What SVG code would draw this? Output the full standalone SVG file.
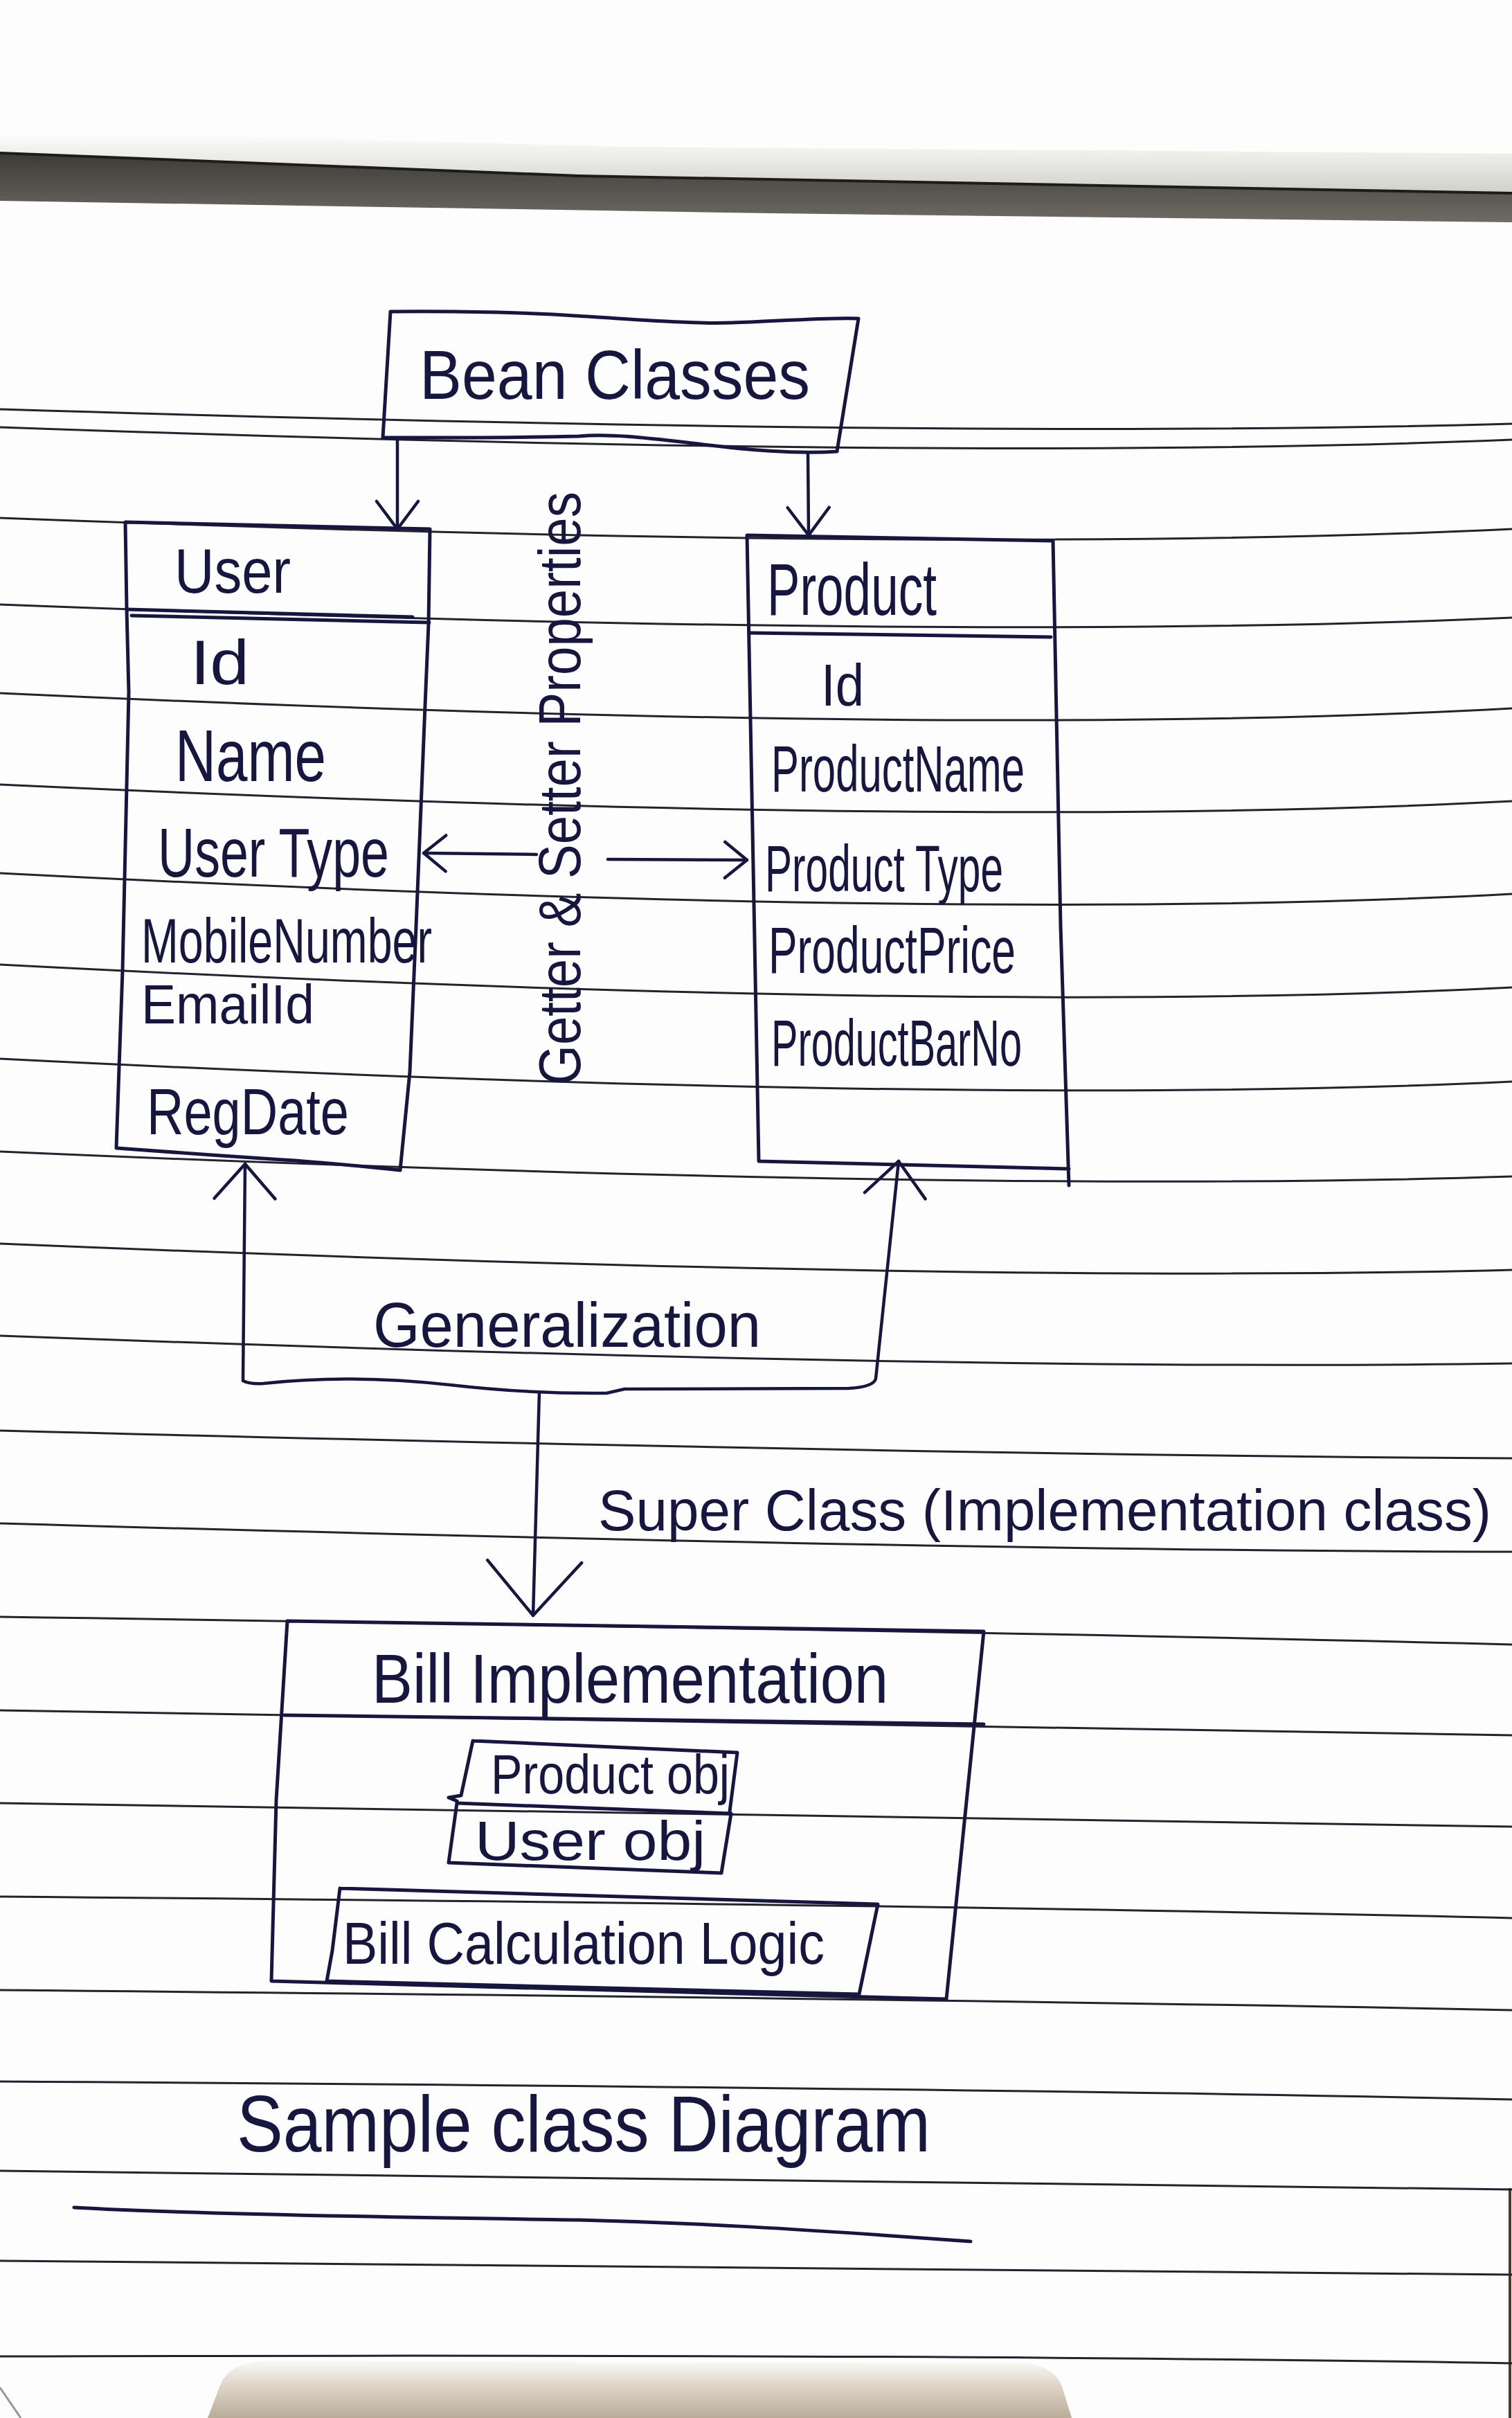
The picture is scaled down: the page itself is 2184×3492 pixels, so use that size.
<svg xmlns="http://www.w3.org/2000/svg" width="2184" height="3492" viewBox="0 0 2184 3492">
<defs>
<style>
.rule{fill:none;stroke:#23232e;stroke-width:3}
.ink{fill:none;stroke:#16163e;stroke-width:5;stroke-linecap:round;stroke-linejoin:round}
.conn{fill:none;stroke:#16163e;stroke-width:4.5;stroke-linecap:round;stroke-linejoin:round}
.t{font-family:"Liberation Sans","DejaVu Sans",sans-serif;fill:#16163e;font-weight:normal}
</style>
<linearGradient id="fuzz" x1="0" y1="0" x2="0" y2="1">
<stop offset="0" stop-color="#ffffff"/>
<stop offset="1" stop-color="#cfcfc8"/>
</linearGradient>
<linearGradient id="band" x1="0" y1="0" x2="0" y2="1">
<stop offset="0" stop-color="#3e3a36"/>
<stop offset="1" stop-color="#6e6a64"/>
</linearGradient>
<linearGradient id="bottomshade" x1="0" y1="0" x2="0" y2="1">
<stop offset="0" stop-color="#fbf9f6"/>
<stop offset="0.45" stop-color="#ddd3c6"/>
<stop offset="1" stop-color="#b9ab98"/>
</linearGradient>
<marker id="arrXS" viewBox="-40 -32 46 64" refX="0" refY="0" markerWidth="46" markerHeight="64" markerUnits="userSpaceOnUse" orient="auto-start-reverse" overflow="visible">
<path d="M-32,-26 L0,0 L-32,26" fill="none" stroke="#16163e" stroke-width="4.5" stroke-linecap="round" stroke-linejoin="round"/>
</marker>
<marker id="arrS" viewBox="-46 -36 52 72" refX="0" refY="0" markerWidth="52" markerHeight="72" markerUnits="userSpaceOnUse" orient="auto-start-reverse" overflow="visible">
<path d="M-40,-30 L0,0 L-40,30" fill="none" stroke="#16163e" stroke-width="4.5" stroke-linecap="round" stroke-linejoin="round"/>
</marker>
<marker id="arrM" viewBox="-56 -50 62 100" refX="0" refY="0" markerWidth="62" markerHeight="100" markerUnits="userSpaceOnUse" orient="auto-start-reverse" overflow="visible">
<path d="M-50,-44 L0,0 L-50,44" fill="none" stroke="#16163e" stroke-width="4.5" stroke-linecap="round" stroke-linejoin="round"/>
</marker>
<marker id="arrL" viewBox="-82 -74 88 148" refX="0" refY="0" markerWidth="88" markerHeight="148" markerUnits="userSpaceOnUse" orient="auto-start-reverse" overflow="visible">
<path d="M-78,-68 L0,0 L-78,68" fill="none" stroke="#16163e" stroke-width="4.5" stroke-linecap="round" stroke-linejoin="round"/>
</marker>
</defs>

<rect x="0" y="0" width="2184" height="3492" fill="#fdfdfd"/>

<g id="paper">
<path d="M0,188 L900,212 L2184,222 L2184,282 L836,256 L0,223 Z" fill="url(#fuzz)"/>
<path d="M0,221 L836,254 L2184,279 L2184,321 L1114,308 L0,290 Z" fill="url(#band)"/>
<path d="M0,221 L836,254 L2184,279" fill="none" stroke="#1e1c1a" stroke-width="4"/>
<path d="M300,3492 L318,3445 Q330,3412 380,3410 L1470,3412 Q1525,3414 1535,3450 L1548,3492 Z" fill="url(#bottomshade)"/>
<path d="M0,3448 L30,3492" fill="none" stroke="#9a9590" stroke-width="3"/>
<path d="M2181,3160 L2181,3492" fill="none" stroke="#4a3a2e" stroke-width="4"/>
<path class="rule" d="M0,591 Q1400,634 2184,612"/>
<path class="rule" d="M0,617 Q1400,667 2184,635"/>
<path class="rule" d="M0,748 Q1400,801 2184,764"/>
<path class="rule" d="M0,873 Q1400,927 2184,892"/>
<path class="rule" d="M0,1001 Q1400,1066 2184,1023"/>
<path class="rule" d="M0,1133 Q1400,1198 2184,1157"/>
<path class="rule" d="M0,1261 Q1400,1333 2184,1291"/>
<path class="rule" d="M0,1393 Q1400,1466 2184,1426"/>
<path class="rule" d="M0,1529 Q1400,1599 2184,1562"/>
<path class="rule" d="M0,1663 Q1400,1724 2184,1699"/>
<path class="rule" d="M0,1796 Q1400,1854 2184,1834"/>
<path class="rule" d="M0,1929 Q1400,1981 2184,1969"/>
<path class="rule" d="M0,2066 Q1400,2102 2184,2106"/>
<path class="rule" d="M0,2200 Q1400,2240 2184,2241"/>
<path class="rule" d="M0,2335 Q1400,2355 2184,2375"/>
<path class="rule" d="M0,2470 Q1400,2494 2184,2506"/>
<path class="rule" d="M0,2604 Q1400,2628 2184,2638"/>
<path class="rule" d="M0,2739 Q1400,2751 2184,2770"/>
<path class="rule" d="M0,2874 Q1400,2887 2184,2903"/>
<path class="rule" d="M0,3006 Q1400,3015 2184,3032"/>
<path class="rule" d="M0,3135 Q1400,3151 2184,3162"/>
<path class="rule" d="M0,3265 Q1400,3275 2184,3285"/>
<path class="rule" d="M0,3403 Q1400,3399 2184,3413"/>
</g>

<g id="connectors">
<path class="conn" d="M574,634 L574,764" marker-end="url(#arrS)"/>
<path class="conn" d="M1167,654 L1168,773" marker-end="url(#arrS)"/>
<path class="conn" d="M775,1234 L612,1232" marker-end="url(#arrXS)"/>
<path class="conn" d="M878,1241 L1079,1242" marker-end="url(#arrXS)"/>
<path class="conn" d="M354,1681 L351,1994 Q360,1999 380,1998 C470,1988 560,1990 650,2000 C720,2008 790,2013 876,2012 L902,2006 L1226,2005 Q1262,2003 1265,1991 L1298,1677" marker-start="url(#arrM)" marker-end="url(#arrM)"/>
<path class="conn" d="M779,2010 L770,2333" marker-end="url(#arrL)"/>
</g>

<g id="bean-classes">
<path class="ink" d="M564,450 C650,449 760,451 830,456 C930,462 1000,468 1058,466 C1120,464 1200,458 1240,460 L1209,652 C1150,656 1080,650 1000,640 C930,632 880,626 836,630 C700,633 600,632 553,632 Z"/>
<text class="t" x="606" y="576" font-size="100" textLength="564" lengthAdjust="spacingAndGlyphs">Bean Classes</text>
</g>

<g id="user">
<path class="ink" d="M181,754 L621,764 L619,901 L614,1019 L601,1338 L592,1548 L578,1690 C520,1684 460,1678 409,1675 L306,1668 L168,1658 L172,1542 L177,1402 L186,1000 L183,880 Z"/>
<path class="ink" d="M183,880 L596,891 M190,889 L620,899"/>
<text class="t" x="252" y="856" font-size="90" textLength="168" lengthAdjust="spacingAndGlyphs">User</text>
<text class="t" x="275" y="988" font-size="90" textLength="85" lengthAdjust="spacingAndGlyphs">Id</text>
<text class="t" x="253" y="1128" font-size="105" textLength="218" lengthAdjust="spacingAndGlyphs">Name</text>
<text class="t" x="228" y="1266" font-size="100" textLength="334" lengthAdjust="spacingAndGlyphs">User Type</text>
<text class="t" x="204" y="1390" font-size="90" textLength="420" lengthAdjust="spacingAndGlyphs">MobileNumber</text>
<text class="t" x="204" y="1478" font-size="80" textLength="250" lengthAdjust="spacingAndGlyphs">EmailId</text>
<text class="t" x="212" y="1638" font-size="95" textLength="292" lengthAdjust="spacingAndGlyphs">RegDate</text>
</g>

<g id="getter-setter-label">
<text class="t" transform="translate(838,1567) rotate(-90)" x="0" y="0" font-size="85" textLength="857" lengthAdjust="spacingAndGlyphs">Getter &amp; Setter Properties</text>
</g>

<g id="product">
<path class="ink" d="M1079,773 L1521,781 L1532,1338 L1544,1712 M1544,1688 L1096,1677 L1079,773"/>
<path class="ink" d="M1083,914 L1518,920"/>
<text class="t" x="1108" y="888" font-size="105" textLength="245" lengthAdjust="spacingAndGlyphs">Product</text>
<text class="t" x="1186" y="1019" font-size="85" textLength="62" lengthAdjust="spacingAndGlyphs">Id</text>
<text class="t" x="1114" y="1143" font-size="95" textLength="366" lengthAdjust="spacingAndGlyphs">ProductName</text>
<text class="t" x="1105" y="1287" font-size="95" textLength="344" lengthAdjust="spacingAndGlyphs">Product Type</text>
<text class="t" x="1110" y="1405" font-size="95" textLength="357" lengthAdjust="spacingAndGlyphs">ProductPrice</text>
<text class="t" x="1114" y="1539" font-size="95" textLength="362" lengthAdjust="spacingAndGlyphs">ProductBarNo</text>
</g>

<g id="generalization-label">
<text class="t" x="539" y="1945" font-size="90" textLength="560" lengthAdjust="spacingAndGlyphs">Generalization</text>
</g>

<g id="superclass-label">
<text class="t" x="864" y="2210" font-size="83" textLength="1290" lengthAdjust="spacingAndGlyphs">Super Class (Implementation class)</text>
</g>

<g id="bill-implementation">
<path class="ink" d="M415,2341 L1421,2356 L1367,2887 L392,2861 L399,2600 Z"/>
<path class="ink" d="M411,2477 L1421,2490"/>
<text class="t" x="537" y="2459" font-size="100" textLength="746" lengthAdjust="spacingAndGlyphs">Bill Implementation</text>
<g id="product-obj">
<path class="ink" d="M683,2514 L1065,2531 L1054,2616 M683,2514 L666,2593 L648,2596 L660,2601"/>
<path class="ink" d="M660,2604 L1056,2619"/>
<text class="t" x="709" y="2590" font-size="80" textLength="345" lengthAdjust="spacingAndGlyphs">Product obj</text>
</g>
<g id="user-obj">
<path class="ink" d="M660,2604 L648,2690 L1042,2705 L1056,2619"/>
<text class="t" x="686" y="2686" font-size="80" textLength="333" lengthAdjust="spacingAndGlyphs">User obj</text>
</g>
<g id="bill-calculation-logic">
<path class="ink" d="M491,2727 L1268,2750 L1241,2880 L472,2861 L480,2817 L491,2727"/>
<text class="t" x="495" y="2836" font-size="85" textLength="696" lengthAdjust="spacingAndGlyphs">Bill Calculation Logic</text>
</g>
</g>

<g id="title">
<text class="t" x="342" y="3107" font-size="115" textLength="1002" lengthAdjust="spacingAndGlyphs">Sample class Diagram</text>
<path class="ink" d="M107,3188 C300,3199 700,3204 836,3206 C1000,3210 1142,3218 1402,3237"/>
</g>
</svg>
